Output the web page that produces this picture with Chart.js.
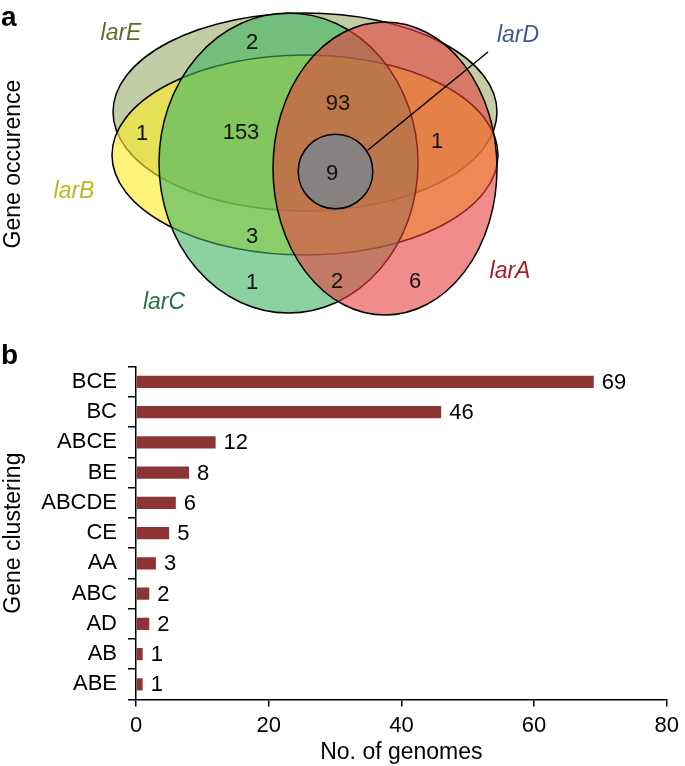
<!DOCTYPE html>
<html>
<head>
<meta charset="utf-8">
<script src="https://cdn.jsdelivr.net/npm/chart.js@4.4.0/dist/chart.umd.min.js"></script>
<style>
  body { margin: 0; background: #fff; }
  #wrap { position: relative; width: 685px; height: 766px; }
  canvas { position: absolute; left: 0; }
  .panel { position: absolute; left: 1px; font: bold 28px 'Liberation Sans', Arial, sans-serif; line-height: 28px; color: #000; }
</style>
</head>
<body>
<div id="wrap">
  <canvas id="venn" width="685" height="330" style="top:0"></canvas>
  <canvas id="bars" width="685" height="436" style="top:330px"></canvas>
  <div class="panel" style="top:3px">a</div>
  <div class="panel" style="top:341px">b</div>
</div>
<script>
// panel a - gene occurence (Venn)
const geneNames = ['larE', 'larB', 'larC', 'larA', 'larD'];
const regionSets = ['CE', 'BE', 'BCE', 'ABCE', 'ABCDE', 'ABE', 'BC', 'C', 'AC', 'A'];
const regionCounts = [2, 1, 153, 93, 9, 1, 3, 1, 2, 6];

// panel b - gene clustering
const clusterLabels = ['BCE', 'BC', 'ABCE', 'BE', 'ABCDE', 'CE', 'AA', 'ABC', 'AD', 'AB', 'ABE'];
const genomeCounts = [69, 46, 12, 8, 6, 5, 3, 2, 2, 1, 1];
const genomeTicks = [0, 20, 40, 60, 80];

// venn layout, in the units of the venn plane (0..685 x 0..330)
const setShapes = {
  larE: { cx: 305, cy: 112, rx: 192, ry: 99, fill: 'rgba(155,172,105,0.6)' },
  larB: { cx: 305, cy: 155, rx: 193, ry: 100, fill: 'rgba(252,234,40,0.62)' },
  larC: { cx: 288.5, cy: 163, rx: 129.5, ry: 150, fill: 'rgba(63,180,97,0.6)' },
  larA: { cx: 385, cy: 168.5, rx: 112, ry: 146.5, fill: 'rgba(230,63,63,0.6)' },
  larD: { cx: 335.5, cy: 171.5, rx: 37.3, ry: 37.3, fill: 'rgb(135,129,129)' },
};
const setLabelPos = {
  larE: { x: 121, y: 34, color: '#5f6a2d' },
  larB: { x: 74, y: 192, color: '#c2b421' },
  larC: { x: 164, y: 303, color: '#2a6e45' },
  larA: { x: 510, y: 272, color: '#9c2027' },
  larD: { x: 518, y: 36, color: '#3d5b8a' },
};
const regionX = [252, 142, 241, 338, 332, 437, 252, 252, 337, 415];
const regionY = [43, 134, 133, 104, 174, 142, 237, 283, 282, 282];
const leader = { x1: 368, y1: 150, x2: 488, y2: 52 };

const FONT = "'Liberation Sans', Arial, Helvetica, sans-serif";

const vennPlugin = {
  id: 'venn',
  beforeDatasetsDraw(chart) {
    const { ctx, scales: { x, y } } = chart;
    ctx.save();
    geneNames.forEach((name) => {
      const s = setShapes[name];
      const px = x.getPixelForValue(s.cx);
      const py = y.getPixelForValue(s.cy);
      const rx = Math.abs(x.getPixelForValue(s.cx + s.rx) - px);
      const ry = Math.abs(y.getPixelForValue(s.cy + s.ry) - py);
      ctx.beginPath();
      ctx.ellipse(px, py, rx, ry, 0, 0, Math.PI * 2);
      ctx.fillStyle = s.fill;
      ctx.fill();
      ctx.lineWidth = 1.5;
      ctx.strokeStyle = '#000';
      ctx.stroke();
    });
    // larD pointer
    ctx.beginPath();
    ctx.moveTo(x.getPixelForValue(leader.x1), y.getPixelForValue(leader.y1));
    ctx.lineTo(x.getPixelForValue(leader.x2), y.getPixelForValue(leader.y2));
    ctx.lineWidth = 1.5;
    ctx.stroke();

    ctx.font = 'italic 23px ' + FONT;
    ctx.textAlign = 'center';
    ctx.textBaseline = 'middle';
    geneNames.forEach((name) => {
      const l = setLabelPos[name];
      ctx.fillStyle = l.color;
      ctx.fillText(name, x.getPixelForValue(l.x), y.getPixelForValue(l.y));
    });

    ctx.translate(14, 164);
    ctx.rotate(-Math.PI / 2);
    ctx.fillStyle = '#000';
    ctx.font = '23px ' + FONT;
    ctx.fillText('Gene occurence', 0, 0);
    ctx.restore();
  },
  afterDatasetsDraw(chart) {
    const { ctx } = chart;
    const meta = chart.getDatasetMeta(0);
    ctx.save();
    ctx.font = '22px ' + FONT;
    ctx.fillStyle = '#111';
    ctx.textAlign = 'center';
    ctx.textBaseline = 'middle';
    meta.data.forEach((pt, i) => {
      ctx.fillText(String(regionCounts[i]), pt.x, pt.y);
    });
    ctx.restore();
  },
};

new Chart(document.getElementById('venn'), {
  type: 'scatter',
  data: {
    datasets: [{
      label: 'genes',
      data: regionCounts.map((c, i) => ({ x: regionX[i], y: regionY[i] })),
      pointRadius: 0,
    }],
  },
  options: {
    responsive: false,
    animation: false,
    layout: { padding: 0 },
    scales: {
      x: { type: 'linear', min: 0, max: 685, display: false },
      y: { type: 'linear', min: 0, max: 330, reverse: true, display: false },
    },
    plugins: { legend: { display: false }, tooltip: { enabled: false } },
  },
  plugins: [vennPlugin],
});

const valueLabels = {
  id: 'valueLabels',
  afterDatasetsDraw(chart) {
    const { ctx } = chart;
    const meta = chart.getDatasetMeta(0);
    ctx.save();
    ctx.font = '22px ' + FONT;
    ctx.fillStyle = '#000';
    ctx.textAlign = 'left';
    ctx.textBaseline = 'middle';
    meta.data.forEach((bar, i) => {
      ctx.fillText(String(genomeCounts[i]), bar.x + 8, bar.y + 1);
    });
    ctx.restore();
  },
};

new Chart(document.getElementById('bars'), {
  type: 'bar',
  data: {
    labels: clusterLabels,
    datasets: [{
      data: genomeCounts,
      backgroundColor: '#8c3532',
      barPercentage: 0.4,
      categoryPercentage: 1,
    }],
  },
  options: {
    indexAxis: 'y',
    responsive: false,
    animation: false,
    layout: { padding: { top: 36.7, right: 13, bottom: 0, left: 0 } },
    scales: {
      x: {
        type: 'linear',
        min: 0,
        max: 80,
        afterBuildTicks: (scale) => { scale.ticks = genomeTicks.map((v) => ({ value: v })); },
        afterFit: (scale) => { scale.height = 66.5; },
        grid: { drawOnChartArea: false, tickLength: 7, color: '#000', lineWidth: 1.5 },
        border: { color: '#000', width: 1.5 },
        ticks: { color: '#000', padding: 6, font: { size: 22, family: FONT } },
        title: { display: true, text: 'No. of genomes', color: '#000', padding: 0, font: { size: 23, family: FONT } },
      },
      y: {
        afterFit: (scale) => { scale.width = 136; },
        grid: { drawOnChartArea: false, tickLength: 8, color: '#000', lineWidth: 1.5, offset: true },
        border: { color: '#000', width: 1.5 },
        ticks: { color: '#000', padding: 11, font: { size: 22, family: FONT } },
        title: { display: true, text: 'Gene clustering', color: '#000', padding: { top: 0.2, bottom: 0 }, font: { size: 23, family: FONT } },
      },
    },
    plugins: { legend: { display: false }, tooltip: { enabled: false } },
  },
  plugins: [valueLabels],
});
</script>
</body>
</html>
